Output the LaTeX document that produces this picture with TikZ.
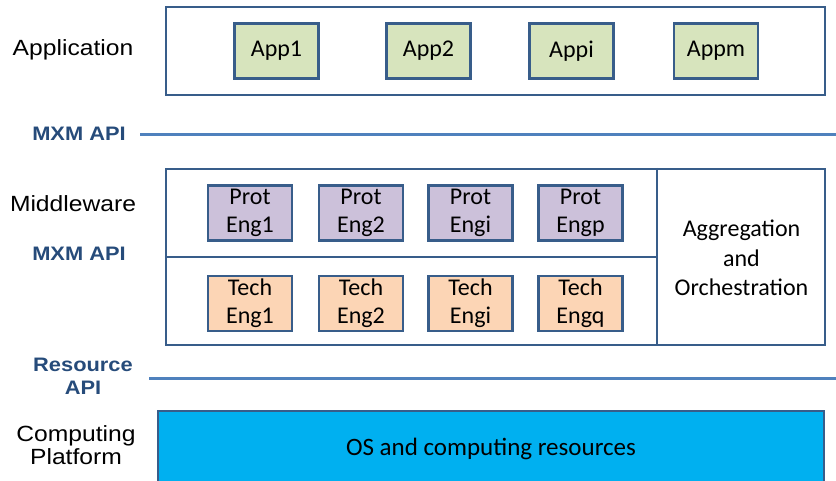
\documentclass[tikz,border=0pt]{standalone}
\usepackage{fontspec}
\setmainfont{Carlito}
\newfontfamily\labelfont[FakeStretch=1.12]{Liberation Sans}
\usepackage{tikz}
\usetikzlibrary{positioning}

\definecolor{edgeblue}{HTML}{385D8A}
\definecolor{apiblue}{HTML}{4F81BD}
\definecolor{apitext}{HTML}{264B7A}
\definecolor{appgreen}{HTML}{D7E4BD}
\definecolor{protpurple}{HTML}{CCC1DA}
\definecolor{techorange}{HTML}{FCD5B5}
\definecolor{osblue}{HTML}{00B0F0}

\begin{document}
\begin{tikzpicture}[
          x=1pt, y=-1pt,
          layer/.style={draw=edgeblue, line width=2.2pt, inner sep=0pt},
          module/.style={draw=edgeblue, line width=2.4pt, inner sep=0pt,
            minimum width=84pt, minimum height=55pt, align=center,
            font=\fontsize{24}{28}\selectfont},
          app/.style={module, fill=appgreen},
          prot/.style={module, fill=protpurple},
          tech/.style={module, fill=techorange},
          api/.style={draw=apiblue, line width=3pt},
          tier/.style={font=\labelfont\fontsize{22}{23}\selectfont, align=center},
          apiname/.style={font=\labelfont\bfseries\fontsize{19.5}{23}\selectfont,
            text=apitext, align=center}
        ]
          \useasboundingbox (0,0) rectangle (836,481);

          % application layer
          \node[layer, minimum width=659pt, minimum height=88pt] (appbox) at (495.5,51) {};
          \node[app] (app1) at (276.5,51) {App1};
          \node[app] (app2) at (428.5,51) {App2};
          \node[app] (appi) at (571.5,51) {Appi};
          \node[app] (appm) at (716,51) {Appm};

          % middleware layer
          \node[layer, minimum width=659pt, minimum height=176pt] (midbox) at (495.5,257) {};
          \coordinate (split) at (657,257);
          \draw[layer] (midbox.west) -- (split);
          \draw[layer] (split |- midbox.north) -- (split |- midbox.south);
          \node[prot] (prot1) at (250,213) {Prot\\Eng1};
          \node[prot] (prot2) at (361,213) {Prot\\Eng2};
          \node[prot] (proti) at (470.5,213) {Prot\\Engi};
          \node[prot] (protp) at (580.5,213) {Prot\\Engp};
          \node[tech, below=33pt of prot1] (tech1) {Tech\\Eng1};
          \node[tech, below=33pt of prot2] (tech2) {Tech\\Eng2};
          \node[tech, below=33pt of proti] (techi) {Tech\\Engi};
          \node[tech, below=33pt of protp] (techq) {Tech\\Engq};
          \node[align=center, font=\fontsize{24}{29.5}\selectfont] (orch) at (741.5,258)
            {Aggregation\\and\\Orchestration};

          % computing platform
          \node[draw=edgeblue, line width=2.2pt, fill=osblue, minimum width=666pt,
            minimum height=76pt, font=\fontsize{25}{28}\selectfont] (os) at (491,449)
            {OS and computing resources};

          % tier names and interfaces
          \node[tier] (application) at (73,50) {Application};
          \node[tier] (middleware) at (73,204) {Middleware};
          \node[tier] (platform) at (76,445) {Computing\\Platform};
          \node[apiname] (mxm1) at (79,134) {MXM API};
          \node[apiname] (mxm2) at (79,254) {MXM API};
          \node[apiname] (resapi) at (83,376) {Resource\\API};

          \coordinate (mxmstart) at (140,135);
          \coordinate (mxmend) at (837,135);
          \coordinate (resstart) at (149,378.5);
          \coordinate (resend) at (837,378.5);
          \draw[api] (mxmstart) -- (mxmend);
          \draw[api] (resstart) -- (resend);
        \end{tikzpicture}
\end{document}
